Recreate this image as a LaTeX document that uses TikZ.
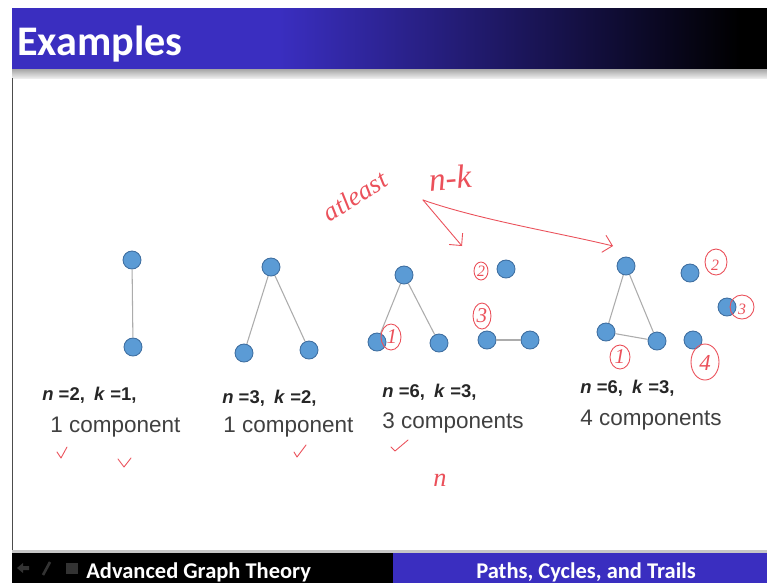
\documentclass[tikz,border=0pt]{standalone}
\usepackage{fontspec}
\setmainfont{Liberation Sans}
\newfontfamily\slidefont{Carlito}
\newfontfamily\penfont{Liberation Serif}
\usetikzlibrary{arrows.meta}

\definecolor{slideblue}{RGB}{58,46,192}
\definecolor{vtxfill}{RGB}{91,155,213}
\definecolor{vtxline}{RGB}{62,110,160}
\definecolor{penred}{RGB}{235,80,90}

\tikzset{
  vtx/.style={circle, fill=vtxfill, draw=vtxline, line width=0.5pt, minimum size=0.36cm, inner sep=0pt},
  edge/.style={draw=gray!65, line width=0.6pt},
  pen/.style={draw=penred, line width=0.5pt, line cap=round, line join=round},
  hand/.style={text=penred, font=\penfont\itshape\fontsize{#1}{#1}\selectfont, inner sep=0pt},
  nk/.style={anchor=base west, inner sep=0pt, text=black!85, font=\bfseries\fontsize{10.5}{12}\selectfont},
  comp/.style={anchor=base west, inner sep=0pt, text=black!75, font=\fontsize{12.8}{14}\selectfont},
}

\begin{document}
\begin{tikzpicture}[x=0.02cm, y=-0.02cm]
  \useasboundingbox (0,0) rectangle (767,583);
  \fill[white] (0,0) rectangle (767,583);

  % title bar
  \fill[slideblue] (12,8) rectangle (280,69);
  \shade[left color=slideblue, right color=black] (279,8) rectangle (740,69);
  \fill[black] (739,8) rectangle (767,69);
  \shade[top color=gray!70, bottom color=gray!15] (12,69) rectangle (767,78);
  \node[anchor=base west, inner sep=0pt, text=white, font=\slidefont\bfseries\fontsize{24}{26}\selectfont] (title) at (17,55) {Examples};
  \draw[black!70, line width=0.8pt] (12.5,78) -- (12.5,553);

  % footer
  \fill[gray!45] (12,550) rectangle (767,553);
  \fill[black] (12,553) rectangle (393,583);
  \fill[slideblue] (393,553) rectangle (767,583);
  \fill[black!80] (17,568) -- (23,563) -- (23,566) -- (29,566) -- (29,570) -- (23,570) -- (23,573) -- cycle;
  \draw[black!80, line width=1.5pt] (43,575) -- (50,562);
  \fill[black!80] (66,563) rectangle (78,574);
  \node[anchor=base west, inner sep=0pt, text=white, font=\slidefont\bfseries\fontsize{12.8}{14}\selectfont] (course) at (86,578) {Advanced Graph Theory};
  \node[anchor=base, inner sep=0pt, text=white, font=\slidefont\bfseries\fontsize{12.8}{14}\selectfont] (topic) at (586,578) {Paths, Cycles, and Trails};

  % graph 1
  \node[vtx] (a1) at (132,260) {};
  \node[vtx] (a2) at (133,347) {};
  \draw[edge] (a1) -- (a2);
  \node[nk] (nk1) at (42,400) {\textit{n} =2,\enspace\textit{k} =1,};
  \node[comp] (c1) at (50,432) {1 component};

  % graph 2
  \node[vtx] (b1) at (271,267) {};
  \node[vtx] (b2) at (244,353) {};
  \node[vtx] (b3) at (309,350) {};
  \draw[edge] (b1) -- (b2);
  \draw[edge] (b1) -- (b3);
  \node[nk] (nk2) at (222,403) {\textit{n} =3,\enspace\textit{k} =2,};
  \node[comp] (c2) at (223,432) {1 component};

  % graph 3
  \node[vtx] (p1) at (404,275) {};
  \node[vtx] (p2) at (377,342) {};
  \node[vtx] (p3) at (439,343) {};
  \node[vtx] (p4) at (506,269) {};
  \node[vtx] (p5) at (487,340) {};
  \node[vtx] (p6) at (530,340) {};
  \draw[edge] (p1) -- (p2);
  \draw[edge] (p1) -- (p3);
  \draw[edge] (p5) -- (p6);
  \node[nk] (nk3) at (382,397) {\textit{n} =6,\enspace\textit{k} =3,};
  \node[comp] (c3) at (382,428) {3 components};

  % graph 4
  \node[vtx] (q1) at (626,266) {};
  \node[vtx] (q2) at (606,332) {};
  \node[vtx] (q3) at (657,341) {};
  \node[vtx] (q4) at (690,273) {};
  \node[vtx] (q5) at (727,307) {};
  \node[vtx] (q6) at (693,340) {};
  \draw[edge] (q1) -- (q2);
  \draw[edge] (q1) -- (q3);
  \draw[edge] (q2) -- (q3);
  \node[nk] (nk4) at (580,393) {\textit{n} =6,\enspace\textit{k} =3,};
  \node[comp] (c4) at (580,425) {4 components};

  % handwritten notes
  \node[hand=15, rotate=32] (atleast) at (355,196) {atleast};
  \node[hand=19, rotate=5] (nminusk) at (450,178) {n-k};
  \coordinate (fork) at (423,200);
  \coordinate (tipA) at (462,246);
  \coordinate (tipB) at (613,246);
  \draw[pen, -{Straight Barb[length=5pt]}] (fork) -- (tipA);
  \draw[pen, -{Straight Barb[length=5pt]}] (fork) .. controls (480,220) and (560,233) .. (tipB);

  \draw[pen] (481,271) ellipse [x radius=7, y radius=9];
  \node[hand=9] (m2) at (481,271) {2};
  \draw[pen] (482,316) ellipse [x radius=9, y radius=13];
  \node[hand=12] (m3) at (482,316) {3};
  \draw[pen] (391,337) ellipse [x radius=10, y radius=13];
  \node[hand=12] (m1) at (392,337) {1};
  \draw[pen] (620,357) ellipse [x radius=10, y radius=12];
  \node[hand=12] (r1) at (620,357) {1};
  \draw[pen] (705,362) ellipse [x radius=14, y radius=18];
  \node[hand=13] (r4) at (705,363) {4};
  \draw[pen] (716,262) ellipse [x radius=11, y radius=13];
  \node[hand=9] (r2) at (715,265) {2};
  \draw[pen] (742,307) ellipse [x radius=12, y radius=12];
  \node[hand=9] (r3) at (742,309) {3};

  % ticks
  \draw[pen] (57,452) -- (61,458) -- (67,447);
  \draw[pen] (118,459) -- (124,467) -- (131,458);
  \draw[pen] (294,452) -- (297,457) -- (306,445);
  \draw[pen] (391,447) -- (395,451) -- (408,440);
  \node[hand=15] (nnote) at (440,480) {n};
\end{tikzpicture}
\end{document}
